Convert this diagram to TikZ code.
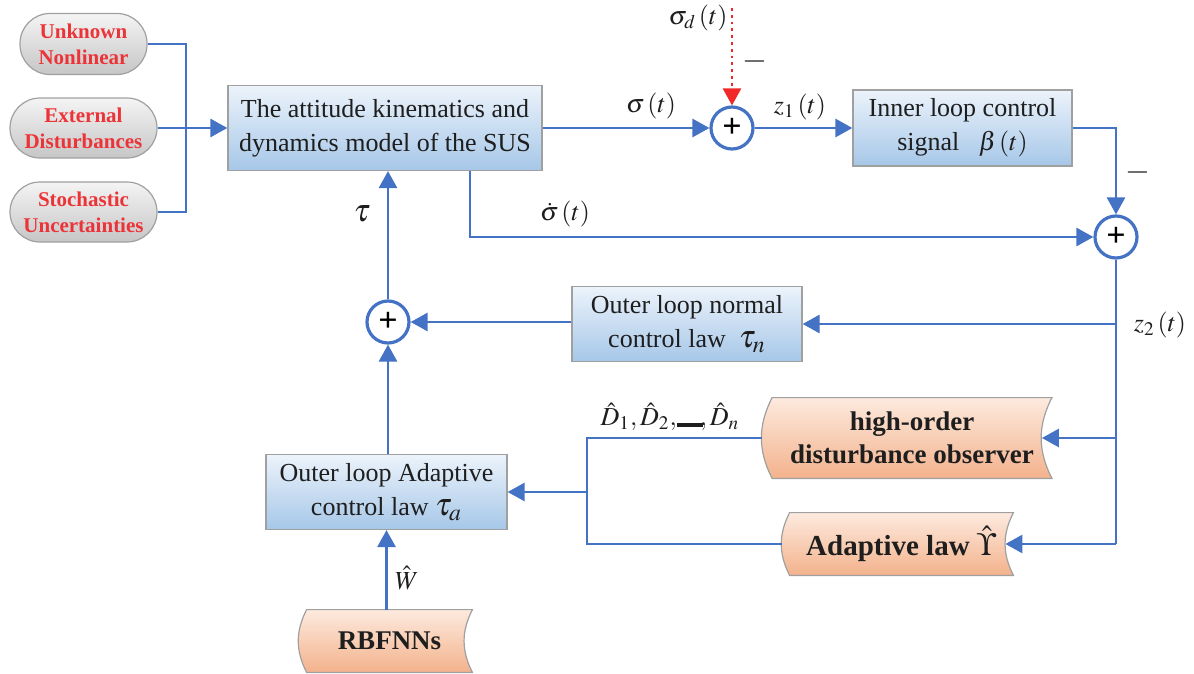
\documentclass[tikz,border=0pt]{standalone}
\usepackage{mathptmx}
\usepackage[no-math]{fontspec}
\setmainfont{Liberation Serif}
\usetikzlibrary{arrows.meta,backgrounds,calc}

\definecolor{flow}{RGB}{68,114,196}
\definecolor{distred}{RGB}{240,40,40}
\definecolor{labred}{RGB}{236,52,56}
\definecolor{blueTop}{RGB}{236,243,251}
\definecolor{blueBot}{RGB}{166,199,232}
\definecolor{peachTop}{RGB}{253,234,222}
\definecolor{peachBot}{RGB}{243,178,140}
\definecolor{greyTop}{RGB}{244,244,244}
\definecolor{greyBot}{RGB}{198,198,198}
\definecolor{edge}{RGB}{160,160,160}
\definecolor{ink}{RGB}{30,30,30}

\tikzset{
  line/.style={draw=flow, line width=1.4pt},
  arrow/.style={line, -{Triangle[length=8.5pt,width=9pt]}},
  bluebox/.style={draw=edge, line width=0.6pt, top color=blueTop, bottom color=blueBot,
    align=center, text=ink, font=\fontsize{13}{17}\selectfont, inner sep=0pt},
  pill/.style={draw=edge, line width=0.6pt, rounded corners=15pt, top color=greyTop, bottom color=greyBot,
    align=center, text=labred, font=\bfseries\fontsize{10.5}{13}\selectfont, inner sep=0pt},
  tapetext/.style={align=center, text=ink, font=\bfseries\fontsize{13.5}{16.5}\selectfont, inner sep=0pt},
  tapefill/.style={draw=edge, line width=0.6pt, top color=peachTop, bottom color=peachBot},
  sumnode/.style={circle, draw=flow, fill=white, line width=1.6pt, minimum size=21pt, inner sep=0pt,
    font=\bfseries\fontsize{17}{17}\selectfont},
  lab/.style={text=ink, font=\fontsize{13}{16}\selectfont, inner sep=0pt},
  minus/.style={text=ink, font=\fontsize{16}{16}\selectfont, inner sep=0pt},
}

% stored-data outline behind a node: left side bulges out, right side curves in
\newcommand\tapeback[1]{%
  \begin{scope}[on background layer]
    \path[tapefill] (#1.north west) to[bend right=27] (#1.south west)
      -- (#1.south east) to[bend left=27] (#1.north east) -- cycle;
  \end{scope}}

\begin{document}
\begin{tikzpicture}[x=0.5pt,y=-0.5pt]
\useasboundingbox (0,0) rectangle (1194,674);

% sources of uncertainty
\node[pill, minimum width=63.5pt, minimum height=30.5pt] (unk) at (83.5,44) {Unknown\\Nonlinear};
\node[pill, minimum width=73.5pt, minimum height=30pt] (ext) at (83.5,128) {External\\Disturbances};
\node[pill, minimum width=73.5pt, minimum height=30pt] (sto) at (83.5,212) {Stochastic\\Uncertainties};

% main blocks
\node[bluebox, minimum width=157pt, minimum height=42.5pt] (plant) at (385,128)
  {The attitude kinematics and\\dynamics model of the SUS};
\node[bluebox, minimum width=109.5pt, minimum height=38pt] (inner) at (962.5,128)
  {Inner loop control\\signal \ \ $\beta\left(t\right)$};
\node[bluebox, minimum width=115pt, minimum height=37.5pt] (outn) at (687,324)
  {Outer loop normal\\control law \ {\fontsize{16}{16}\selectfont$\tau_n$}};
\node[bluebox, minimum width=120.5pt, minimum height=37.5pt] (outa) at (386.5,492)
  {Outer loop Adaptive\\control law {\fontsize{16}{16}\selectfont$\tau_a$}};

% summing junctions
\node[sumnode] (s1) at (732,128) {+};
\node[sumnode] (s2) at (1116,237) {+};
\node[sumnode] (s3) at (388,322) {+};

% observer, adaptive law and neural network blocks
\node[tapetext, minimum width=139.5pt, minimum height=40pt] (obs) at (912,438)
  {high-order\\disturbance observer};
\tapeback{obs}
\node[tapetext, font=\bfseries\fontsize{14.5}{16}\selectfont, minimum width=111.5pt, minimum height=31pt] (adl) at (901.5,544)
  {Adaptive law {\fontsize{16}{16}\selectfont$\hat{\Upsilon}$}};
\tapeback{adl}
\node[tapetext, font=\bfseries\fontsize{13.5}{16}\selectfont, minimum width=82.5pt, minimum height=31pt] (rbf) at (389.5,641) {RBFNNs};
\tapeback{rbf}

% uncertainty inputs to the plant
\coordinate (jin) at (186,128);
\draw[line] (unk.east) -| (jin);
\draw[line] (sto.east) -| (jin);
\draw[arrow] (ext.east) -- (plant.west);

% attitude error path
\draw[arrow] (plant.east |- s1) -- (s1.west);
\node[lab] (sig) at (651,106) {$\sigma\left(t\right)$};
\coordinate (ref) at (732,8);
\draw[draw=distred, line width=1.4pt, dotted, -{Triangle[length=8.5pt,width=9pt]}] (ref) -- (s1.north);
\node[lab] (sdl) at (698,18) {$\sigma_d\left(t\right)$};
\node[minus] (m1) at (755,62) {$-$};
\draw[arrow] (s1.east) -- (inner.west |- s1);
\node[lab] (z1) at (800,107) {$z_1\left(t\right)$};

% velocity error path
\draw[arrow] (inner.east) -| (s2.north);
\node[minus] (m2) at (1138,172) {$-$};
\coordinate (vd) at (470,237);
\draw[arrow] (plant.south -| vd) |- (s2.west);
\node[lab] (sdot) at (565,214) {$\dot{\sigma}\left(t\right)$};

% z2 distribution
\coordinate (jz) at (1116,544);
\draw[line] (s2.south) -- (jz);
\node[lab] (z2) at (1160,325) {$z_2\left(t\right)$};
\draw[arrow] (s2.south |- outn.east) -- (outn.east);
\draw[arrow] (s2.south |- obs.east) -- ([xshift=-5pt]obs.east);
\draw[arrow] (jz) -- ([xshift=-4pt]adl.east);

% outer loop
\draw[arrow] (outn.west |- s3) -- (s3.east);
\draw[arrow] (s3.north) -- (plant.south -| s3);
\node[lab] (tau) at (362,214) {{\fontsize{16}{16}\selectfont$\tau$}};
\draw[arrow] (outa.north -| s3) -- (s3.south);

% estimates to the adaptive controller
\coordinate (jd) at (587,438);
\coordinate (jm) at (587,492);
\draw[line] ([xshift=-5pt]obs.west) -- (jd) |- ([xshift=-4pt]adl.west);
\draw[arrow] (jm) -- (outa.east);
\node[lab, font=\fontsize{13}{15}\selectfont] (dh) at (670,417)
  {$\hat{D}_1,\hat{D}_2,\!\rule[-0.5pt]{13pt}{1.8pt}\!,\hat{D}_n$};

% neural network weights
\draw[arrow] (rbf.north -| outa) -- (outa.south);
\node[lab] (wh) at (407,578) {$\hat{W}$};
\end{tikzpicture}
\end{document}
